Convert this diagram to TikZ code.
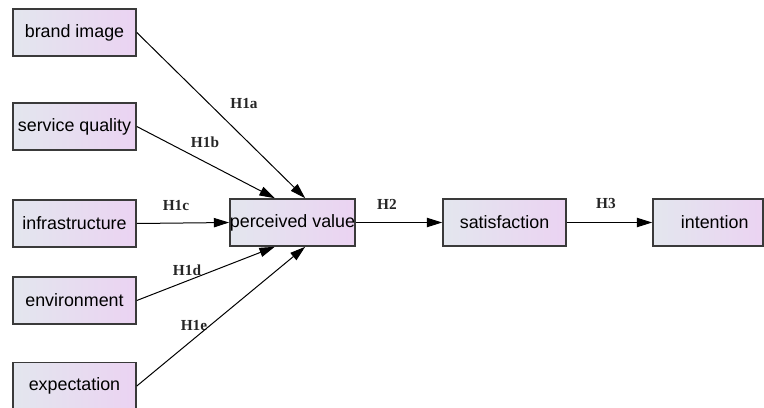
\documentclass[tikz,border=0pt]{standalone}
\usepackage{fontspec}
\setmainfont{Liberation Serif}
\setsansfont{Liberation Sans}
\usetikzlibrary{arrows.meta,positioning,shapes,calc}
\definecolor{boxleft}{HTML}{E3E6EE}
\definecolor{boxright}{HTML}{EBD3F2}
\definecolor{boxline}{HTML}{3A3A3A}
\tikzset{
  factor/.style={draw=boxline, line width=1.2pt, left color=boxleft, right color=boxright,
    minimum width=92.25pt, minimum height=35.25pt, inner sep=0pt,
    font=\sffamily\fontsize{13.4}{15}\selectfont},
  hyp/.style={font=\bfseries\fontsize{11.5}{13}\selectfont, text=black!85, inner sep=0pt},
  link/.style={line width=0.75pt, -{Triangle[length=11.5pt, width=7pt]}}
}
\begin{document}
\begin{tikzpicture}[x=0.75pt, y=-0.75pt]
    \useasboundingbox (0,0) rectangle (764,407);
    \node[factor] (brand) at (74.5,32.5) {brand image};
    \node[factor] (service) at (74.5,126.5) {service quality};
    \node[factor] (infra) at (74.5,223.5) {infrastructure};
    \node[factor] (env) at (74.5,300.5) {environment};
    \node[factor] (expect) at (74.5,386) {expectation};
    \node[factor] (value) at (292.5,222.5) {perceived value};
    \node[factor] (satis) at (504.5,222.5) {satisfaction};
    \node[factor, minimum width=82.5pt, text width=82.5pt, align=center] (intent) at (708,222.5) {\hspace*{10pt}intention};
    % hypothesis labels
    \node[hyp] (h1a) at (244,104) {H1a};
    \node[hyp] (h1b) at (205,142) {H1b};
    \node[hyp] (h1c) at (176,206) {H1c};
    \node[hyp] (h1d) at (187,270) {H1d};
    \node[hyp] (h1e) at (194,326) {H1e};
    \node[hyp] (h2) at (387,204) {H2};
    \node[hyp] (h3) at (606,203) {H3};
    \draw[link] (brand.east) -- ($(value.north west)!0.6!(value.north east)$);
    \draw[link] (service.east) -- ($(value.north west)!0.36!(value.north east)$);
    \draw[link] (infra.east) -- (value.west);
    \draw[link] (env.east) -- ($(value.south west)!0.36!(value.south east)$);
    \draw[link] (expect.east) -- ($(value.south west)!0.6!(value.south east)$);
    \draw[link] (value.east) -- (satis.west);
    \draw[link] (satis.east) -- (intent.west);
  \end{tikzpicture}
\end{document}
